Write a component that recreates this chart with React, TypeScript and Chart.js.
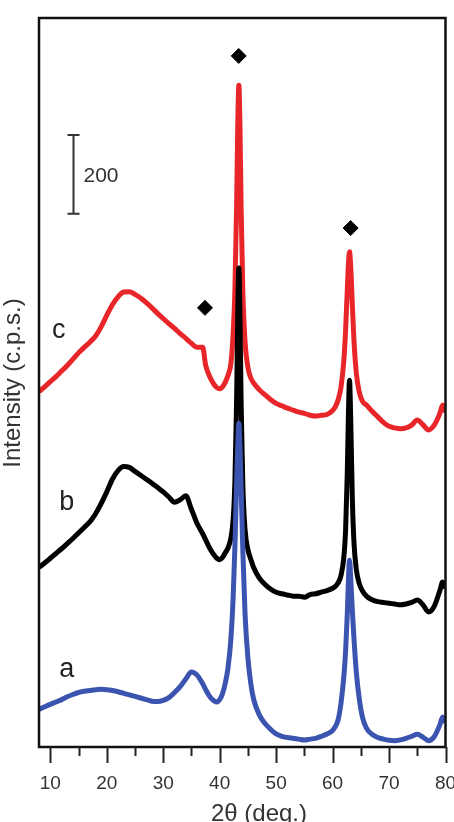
import React, { useEffect, useRef } from "react";
import { Chart, registerables } from "chart.js";

Chart.register(...registerables);

// 2θ positions (deg.)
const twoTheta = [
  8, 9, 10, 11, 12, 13, 14, 15, 16, 17, 18, 19, 20, 21, 22, 23, 24, 25, 26, 27, 28, 29, 30, 31, 32, 33, 34, 35, 36, 37,
  37.5, 38, 38.5, 39, 39.5, 40, 40.5, 41, 41.5, 42,
  42.4, 42.7, 43.0, 43.2, 43.4, 43.6, 43.8, 44.1, 44.5, 45, 45.5, 46,
  47, 48, 49, 50, 51, 52, 53, 54, 55, 56, 57, 58, 59, 60,
  60.5, 61, 61.5, 62, 62.3, 62.6, 62.8, 63.0, 63.2, 63.5, 63.8, 64.2, 64.7, 65.3,
  66, 67, 68, 69, 70, 71, 72, 73, 74, 75, 76, 77, 78, 79,
  79.5, 80,
];

// curve a (blue)
const intensityA = [
  95, 102, 108, 114, 120, 127, 133, 138, 141, 143, 145, 146, 145, 143, 140, 136, 132, 128, 124, 120, 116, 115, 118, 125, 138, 153, 172, 190, 182, 160,
  146, 133, 123, 117, 114, 120, 135, 162, 203, 276,
  383, 508, 666, 758, 820, 756, 660, 498, 335, 226, 162, 122,
  82, 60, 45, 33, 27, 24, 22, 20, 18, 20, 22, 27, 33, 42,
  52, 70, 112, 180, 240, 335, 420, 473, 432, 345, 272, 190, 125, 75,
  48, 32, 24, 20, 17, 16, 18, 22, 27, 32, 25, 16, 26, 56,
  76, 62,
];

// curve b (black)
const intensityB = [
  455, 466, 478, 490, 502, 515, 528, 542, 556, 570, 590, 616, 646, 678, 700, 710, 708, 698, 688, 678, 668, 657, 646, 633, 620, 626, 636, 602, 566, 540,
  525, 510, 497, 486, 478, 474, 480, 492, 505, 530,
  578, 673, 877, 1090, 1213, 1088, 872, 665, 550, 500, 476, 455,
  428, 412, 400, 392, 388, 385, 382, 382, 379, 386, 388, 392, 396, 402,
  407, 416, 435, 481, 547, 691, 840, 929, 838, 628, 515, 450, 415, 395,
  382, 373, 368, 366, 364, 362, 360, 362, 366, 372, 360, 342, 356, 396,
  418, 402,
];

// curve c (red)
const intensityC = [
  900, 912, 925, 938, 952, 966, 982, 998, 1012, 1025, 1040, 1064, 1093, 1120, 1140, 1152, 1153, 1146, 1137, 1125, 1112, 1098, 1085, 1072, 1060, 1047, 1035, 1022, 1012, 1012,
  968, 946, 930, 918, 910, 907, 912, 924, 942, 972,
  1050, 1158, 1370, 1570, 1676, 1568, 1368, 1155, 1025, 962, 935, 922,
  905, 892, 880, 870, 864, 858, 853, 848, 845, 840, 838, 840, 842, 852,
  862, 880, 912, 980, 1054, 1156, 1221, 1254, 1220, 1120, 1026, 948, 900, 875,
  866, 850, 836, 822, 812, 808, 806, 808, 815, 828, 816, 803, 815, 845,
  866, 848,
];

// NiO reflection markers (diamonds)
const markerTheta = [37.4, 43.38, 63.2];
const markerIntensity = [1112, 1750, 1314];

const xMajorTicks = [10, 20, 30, 40, 50, 60, 70, 80];
const xMinorTicks = [15, 25, 35, 45, 55, 65, 75];

const seriesNames = ["a", "b", "c"];
const scaleBarLength = 200;

const FONT = "'Liberation Sans', Arial, Helvetica, sans-serif";

export default function App() {
  const ref = useRef<HTMLCanvasElement>(null);

  useEffect(() => {
    const canvas = ref.current;
    if (!canvas) return;

    const toXY = (ys: number[]) => twoTheta.map((t, i) => ({ x: t, y: ys[i] }));

    const decor = {
      id: "decor",
      afterDraw(chart: any) {
        const { ctx, chartArea: a, scales } = chart;
        const xs = scales.x;
        const ys = scales.y;
        ctx.save();

        // frame
        ctx.strokeStyle = "#111";
        ctx.lineWidth = 2.5;
        ctx.strokeRect(a.left, a.top, a.right - a.left, a.bottom - a.top);

        // ticks
        ctx.lineWidth = 2;
        ctx.strokeStyle = "#222";
        ctx.beginPath();
        for (const t of xMajorTicks) {
          const px = Math.round(xs.getPixelForValue(t)) + 0.5;
          ctx.moveTo(px, a.bottom);
          ctx.lineTo(px, a.bottom + 16);
        }
        for (const t of xMinorTicks) {
          const px = Math.round(xs.getPixelForValue(t)) + 0.5;
          ctx.moveTo(px, a.bottom);
          ctx.lineTo(px, a.bottom + 9);
        }
        ctx.stroke();

        // tick labels
        ctx.fillStyle = "#333";
        ctx.font = `19px ${FONT}`;
        ctx.textAlign = "center";
        ctx.textBaseline = "alphabetic";
        for (const t of xMajorTicks) {
          ctx.fillText(String(t), xs.getPixelForValue(t), a.bottom + 42);
        }

        // x title
        ctx.font = `24px ${FONT}`;
        ctx.fillText("2\u03b8 (deg.)", 259, 821);

        // y title
        ctx.save();
        ctx.translate(13, 383);
        ctx.rotate(-Math.PI / 2);
        ctx.textBaseline = "middle";
        ctx.font = `24px ${FONT}`;
        ctx.fillText("Intensity (c.p.s.)", 0, 0);
        ctx.restore();

        // scale bar
        const bx = Math.round(xs.getPixelForValue(14.1)) + 0.5;
        const by0 = ys.getPixelForValue(1350);
        const by1 = ys.getPixelForValue(1350 + scaleBarLength);
        ctx.strokeStyle = "#333";
        ctx.lineWidth = 2;
        ctx.beginPath();
        ctx.moveTo(bx, by0);
        ctx.lineTo(bx, by1);
        ctx.moveTo(bx - 6, by0);
        ctx.lineTo(bx + 6, by0);
        ctx.moveTo(bx - 6, by1);
        ctx.lineTo(bx + 6, by1);
        ctx.stroke();
        ctx.fillStyle = "#333";
        ctx.font = `21px ${FONT}`;
        ctx.textAlign = "left";
        ctx.fillText(String(scaleBarLength), bx + 10, (by0 + by1) / 2 + 8);

        // series labels
        ctx.font = `27px ${FONT}`;
        ctx.fillStyle = "#222";
        const labelPos = [
          [11.6, 177],
          [11.6, 600],
          [10.3, 1036],
        ];
        seriesNames.forEach((n, i) => {
          ctx.fillText(n, xs.getPixelForValue(labelPos[i][0]), ys.getPixelForValue(labelPos[i][1]));
        });

        ctx.restore();
      },
    };

    const chart = new Chart(canvas, {
      type: "scatter",
      data: {
        datasets: [
          {
            label: "markers",
            data: markerTheta.map((t, i) => ({ x: t, y: markerIntensity[i] })),
            pointStyle: "rectRot",
            pointRadius: 7.5,
            backgroundColor: "#000",
            borderColor: "#000",
            borderWidth: 1,
            showLine: false,
          },
          {
            label: seriesNames[0],
            data: toXY(intensityA),
            showLine: true,
            borderColor: "rgb(58, 84, 176)",
            borderWidth: 5,
            pointRadius: 0,
            cubicInterpolationMode: "monotone",
          },
          {
            label: seriesNames[1],
            data: toXY(intensityB),
            showLine: true,
            borderColor: "#000",
            borderWidth: 5,
            pointRadius: 0,
            cubicInterpolationMode: "monotone",
          },
          {
            label: seriesNames[2],
            data: toXY(intensityC),
            showLine: true,
            borderColor: "rgb(232, 38, 42)",
            borderWidth: 5,
            pointRadius: 0,
            cubicInterpolationMode: "monotone",
          },
        ],
      },
      options: {
        responsive: false,
        animation: false,
        devicePixelRatio: 1,
        layout: { padding: { left: 39, right: 7, top: 18, bottom: 75 } },
        plugins: { legend: { display: false }, tooltip: { enabled: false } },
        scales: {
          x: { type: "linear", min: 8, max: 80, display: false },
          y: { type: "linear", min: 0, max: 1846, display: false },
        },
      },
      plugins: [decor],
    } as any);

    return () => chart.destroy();
  }, []);

  return (
    <div style={{ position: "absolute", left: 0, top: 0, width: 454, height: 822, background: "#fff" }}>
      <canvas ref={ref} width={454} height={822} style={{ display: "block" }} />
    </div>
  );
}
